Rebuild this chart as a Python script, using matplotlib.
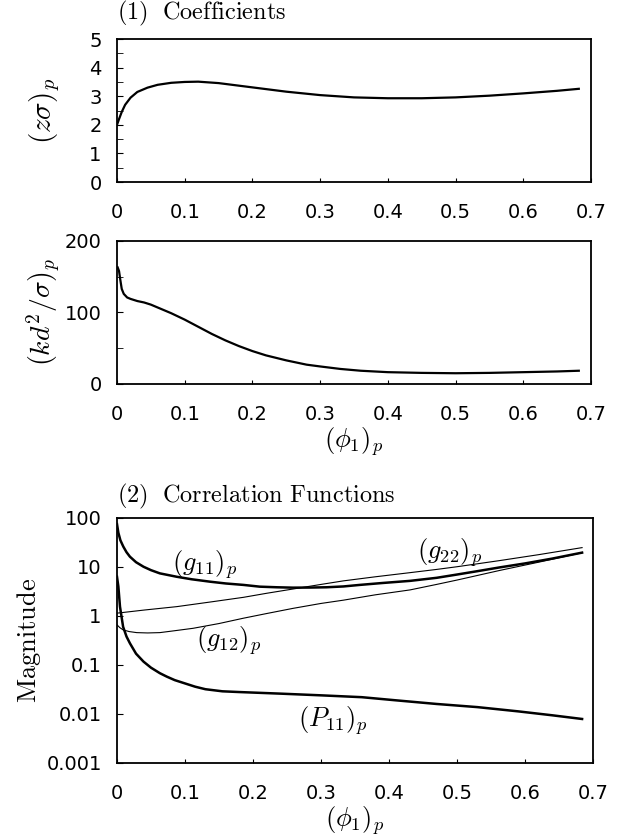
import matplotlib
matplotlib.use('Agg')
import matplotlib.pyplot as plt
from matplotlib.ticker import MultipleLocator, FixedLocator, NullLocator

plt.rcParams['mathtext.fontset'] = 'cm'
plt.rcParams['font.family'] = 'DejaVu Sans'

# (1) Coefficients
phi_z = [0.0, 0.003, 0.007, 0.012, 0.02, 0.03, 0.045, 0.06, 0.08, 0.1,
         0.12, 0.15, 0.2, 0.25, 0.3, 0.35, 0.4, 0.45, 0.5, 0.55,
         0.6, 0.65, 0.682]
z_sigma = [2.0, 2.2, 2.45, 2.7, 2.95, 3.15, 3.3, 3.4, 3.47, 3.5,
           3.51, 3.46, 3.31, 3.16, 3.04, 2.96, 2.93, 2.93, 2.96, 3.02,
           3.1, 3.19, 3.26]

phi_k = [0.001, 0.003, 0.005, 0.007, 0.01, 0.015, 0.02, 0.03, 0.04, 0.05,
         0.06, 0.07, 0.08, 0.1, 0.12, 0.14, 0.16, 0.18, 0.2, 0.22,
         0.25, 0.28, 0.3, 0.33, 0.36, 0.4, 0.45, 0.5, 0.55, 0.6,
         0.65, 0.682]
kd2_sigma = [163, 158, 145, 133, 126, 121, 119, 116, 114, 111,
             107, 103, 99, 90, 80, 70, 61, 53, 46, 40,
             33, 27, 24.5, 21, 18.5, 16.5, 15.5, 15, 15.5, 16.5,
             17.5, 18.5]

# (2) Correlation functions
phi_g11 = [0.0, 0.002, 0.005, 0.0093, 0.014, 0.019, 0.028, 0.039, 0.05, 0.063,
           0.088, 0.11, 0.137, 0.16, 0.186, 0.21, 0.235, 0.259, 0.285, 0.308,
           0.333, 0.357, 0.39, 0.431, 0.47, 0.5, 0.53, 0.563, 0.6, 0.64,
           0.684]
g11 = [75, 50, 35, 26, 20, 16.2, 12.5, 10.1, 8.6, 7.4,
       6.3, 5.6, 5.0, 4.6, 4.3, 3.96, 3.85, 3.78, 3.8, 3.85,
       4.0, 4.3, 4.7, 5.2, 6.0, 7.0, 8.2, 9.8, 11.8, 14.8,
       19.6]

phi_g22 = [0.0, 0.04, 0.088, 0.14, 0.186, 0.22, 0.259, 0.3, 0.333, 0.38,
           0.431, 0.47, 0.5, 0.563, 0.62, 0.684]
g22 = [1.14, 1.32, 1.55, 1.95, 2.4, 2.9, 3.55, 4.4, 5.2, 6.3,
       7.65, 8.9, 10.1, 13.5, 17.8, 24.8]

phi_g12 = [0.0, 0.004, 0.009, 0.018, 0.029, 0.045, 0.063, 0.085, 0.112, 0.15,
           0.186, 0.22, 0.259, 0.3, 0.333, 0.38, 0.431, 0.47, 0.5, 0.563,
           0.62, 0.684]
g12 = [0.66, 0.58, 0.52, 0.48, 0.457, 0.45, 0.457, 0.5, 0.56, 0.7,
       0.9, 1.12, 1.43, 1.8, 2.1, 2.7, 3.4, 4.4, 5.4, 8.5, 12.5, 19.5]

phi_p11 = [0.0, 0.002, 0.0044, 0.009, 0.014, 0.019, 0.028, 0.039, 0.05, 0.063,
           0.073, 0.085, 0.1, 0.115, 0.13, 0.155, 0.18, 0.24, 0.3, 0.36,
           0.41, 0.47, 0.53, 0.59, 0.64, 0.684]
p11 = [6.3, 4.0, 1.55, 0.6, 0.38, 0.277, 0.17, 0.117, 0.088, 0.068,
       0.058, 0.049, 0.042, 0.036, 0.032, 0.029, 0.028, 0.026, 0.024, 0.022,
       0.019, 0.016, 0.0138, 0.0113, 0.0094, 0.0079]

x_ticks = [0, 0.1, 0.2, 0.3, 0.4, 0.5, 0.6, 0.7]
x_ticklabels = ['0', '0.1', '0.2', '0.3', '0.4', '0.5', '0.6', '0.7']
log_ticks = [0.001, 0.01, 0.1, 1, 10, 100]
log_ticklabels = ['0.001', '0.01', '0.1', '1', '10', '100']

fig = plt.figure(figsize=(6.2, 8.4), dpi=100)
ax1 = fig.add_axes([0.1887, 0.7833, 0.7645, 0.1702])
ax2 = fig.add_axes([0.1887, 0.5429, 0.7645, 0.1702])
ax3 = fig.add_axes([0.1887, 0.0917, 0.7677, 0.2917])

for ax in (ax1, ax2, ax3):
    ax.set_xlim(0, 0.7)
    ax.set_xticks(x_ticks)
    ax.set_xticklabels(x_ticklabels)
    ax.tick_params(axis='x', direction='in', length=3, pad=15, labelsize=14)
    ax.tick_params(axis='y', which='both', direction='in', length=4, pad=11, labelsize=14)
    for s in ax.spines.values():
        s.set_linewidth(1.3)

ax1.plot(phi_z, z_sigma, color='black', lw=1.6)
ax1.set_ylim(0, 5)
ax1.yaxis.set_major_locator(MultipleLocator(1))
ax1.yaxis.set_minor_locator(MultipleLocator(0.5))
ax1.set_ylabel(r'$(z\sigma)_p$', fontsize=21)
ax1.yaxis.set_label_coords(-0.115, 0.5)
ax1.text(0.0, 1.14, r'$\mathrm{(1)\ \ Coefficients}$', transform=ax1.transAxes,
         fontsize=17.5, ha='left', va='baseline')

ax2.plot(phi_k, kd2_sigma, color='black', lw=1.6)
ax2.set_ylim(0, 200)
ax2.yaxis.set_major_locator(MultipleLocator(100))
ax2.yaxis.set_minor_locator(MultipleLocator(50))
ax2.set_ylabel(r'$(kd^2/\sigma)_p$', fontsize=20)
ax2.yaxis.set_label_coords(-0.117, 0.5)
ax2.set_xlabel(r'$(\phi_1)_p$', fontsize=19, labelpad=1)

ax3.set_yscale('log')
ax3.plot(phi_g11, g11, color='black', lw=1.8)
ax3.plot(phi_g22, g22, color='black', lw=0.8)
ax3.plot(phi_g12, g12, color='black', lw=0.8)
ax3.plot(phi_p11, p11, color='black', lw=1.8)
ax3.set_ylim(0.001, 100)
ax3.yaxis.set_major_locator(FixedLocator(log_ticks))
ax3.set_yticklabels(log_ticklabels)
ax3.yaxis.set_minor_locator(NullLocator())
ax3.set_ylabel(r'$\mathrm{Magnitude}$', fontsize=19)
ax3.yaxis.set_label_coords(-0.155, 0.5)
ax3.set_xlabel(r'$(\phi_1)_p$', fontsize=19, labelpad=1)
ax3.text(0.0, 1.065, r'$\mathrm{(2)\ \ Correlation\ Functions}$', transform=ax3.transAxes,
         fontsize=17.5, ha='left', va='baseline')

ax3.text(0.129, 11, r'$(g_{11})_p$', fontsize=19, ha='center', va='center')
ax3.text(0.49, 20, r'$(g_{22})_p$', fontsize=19, ha='center', va='center')
ax3.text(0.164, 0.32, r'$(g_{12})_p$', fontsize=19, ha='center', va='center')
ax3.text(0.318, 0.0074, r'$(P_{11})_p$', fontsize=19, ha='center', va='center')

fig.savefig('out.png', dpi=100)
